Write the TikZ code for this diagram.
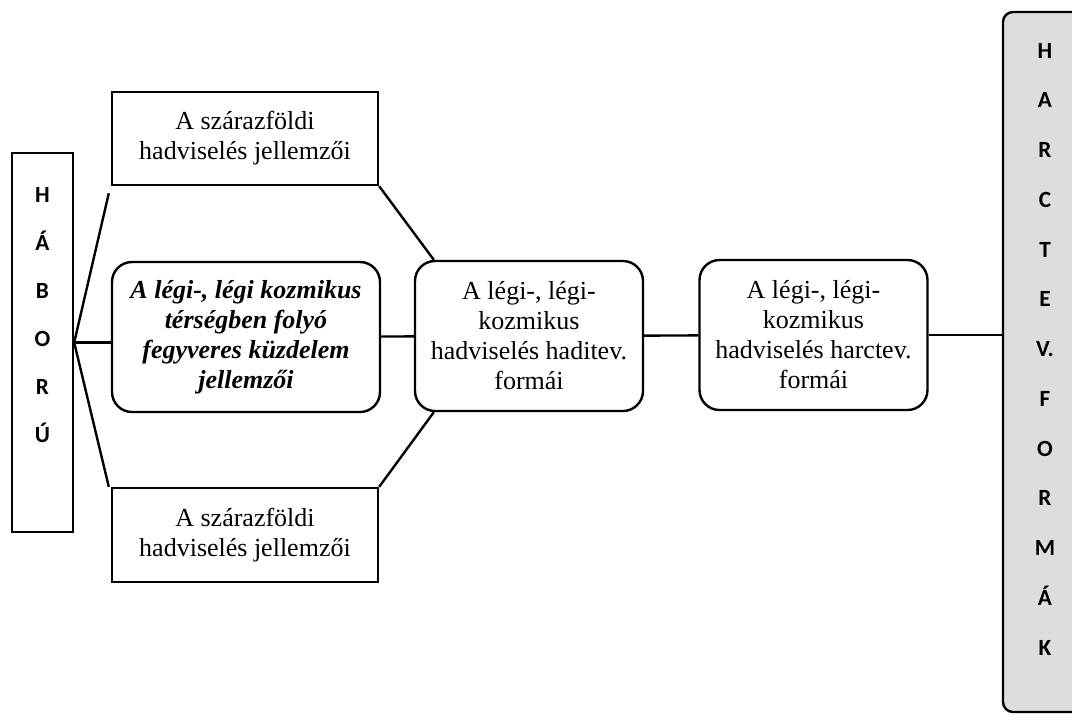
\documentclass[tikz,border=0pt]{standalone}
\usepackage{fontspec}
\setmainfont{Liberation Serif}
\newfontfamily\letterfont{Carlito}
\definecolor{panelgray}{HTML}{DDDDDD}

\begin{document}
\begin{tikzpicture}[x=0.5pt,y=-0.5pt,line width=1.2pt,
  box/.style={draw,rectangle,inner sep=0pt,align=center,font=\fontsize{13}{15}\selectfont},
  rbox/.style={box,rounded corners=10pt,minimum width=114pt,minimum height=75pt},
  letter/.style={anchor=base,inner sep=0pt,font=\letterfont\bfseries\fontsize{11.6}{14}\selectfont}]

  \useasboundingbox (0,0) rectangle (1072,714);

  \draw (42.5,342.5) node[box,minimum width=30.5pt,minimum height=189.5pt] (war) {};
  \draw (1046.5,362) node[box,rounded corners=5pt,fill=panelgray,minimum width=43.5pt,minimum height=350pt] (forms) {};

  \draw (245,138.5) node[box,minimum width=133pt,minimum height=46.5pt] (topbox) {A szárazföldi\\hadviselés jellemzői};
  \draw (246,337) node[rbox,minimum width=134pt,font=\fontsize{13}{15}\selectfont\bfseries\itshape] (midbox) {A légi-, légi kozmikus\\térségben folyó\\fegyveres küzdelem\\jellemzői};
  \draw (245,535) node[box,minimum width=133pt,minimum height=47pt] (botbox) {A szárazföldi\\hadviselés jellemzői};

  \draw (529,336) node[rbox] (haditev) {A légi-, légi-\\kozmikus\\hadviselés haditev.\\formái};
  \draw (813.5,335) node[rbox] (harctev) {A légi-, légi-\\kozmikus\\hadviselés harctev.\\formái};

  % letters
  \foreach \l [count=\i from 0] in {H,Á,B,O,R,Ú}
    \node[letter] (w\i) at (42.5,{202+48*\i}) {\l};
  \foreach \l [count=\i from 0] in {H,A,R,C,T,E,V.,F,O,R,M,Á,K}
    \node[letter] (f\i) at (1045,{58+49.75*\i}) {\l};

  \draw (war.east) -- ([shift={(-1pt,-3.5pt)}]topbox.south west);
  \draw (war.east) -- (war.east -| midbox.west);
  \draw (war.east) -- ([xshift=-1pt]botbox.north west);

  \draw (topbox.south east) -- ([xshift=10pt]haditev.north west);
  \draw (botbox.north east) -- ([xshift=10pt]haditev.south west);
  \draw (midbox) -- (haditev);
  \draw (haditev) -- (harctev);
  \draw (harctev.east) -- (harctev.east -| forms.west);

\end{tikzpicture}
\end{document}
